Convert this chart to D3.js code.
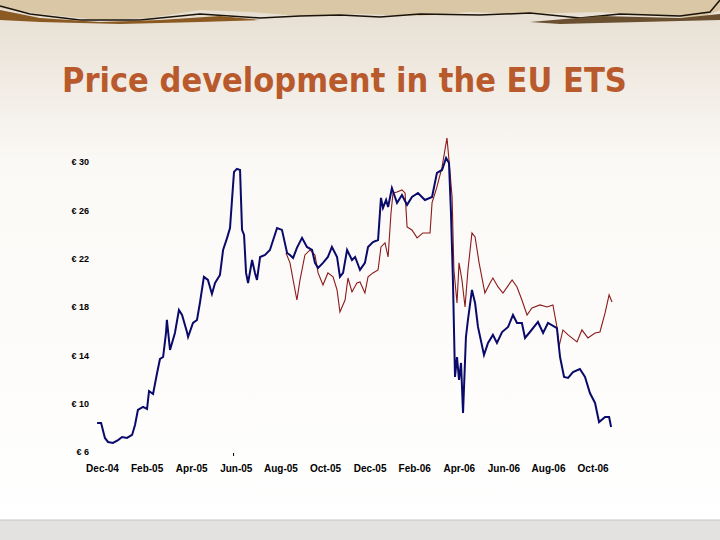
<!DOCTYPE html>
<html>
<head>
<meta charset="UTF-8">
<script src="https://d3js.org/d3.v7.min.js"></script>
<style>body{margin:0;overflow:hidden}</style>
</head>
<body>
<div id="chart"></div>
<script>
// months since Dec-04, price in EUR
var monthLabels = ["Dec-04","Feb-05","Apr-05","Jun-05","Aug-05","Oct-05","Dec-05","Feb-06","Apr-06","Jun-06","Aug-06","Oct-06"];
var priceTicks = [6, 10, 14, 18, 22, 26, 30];

var blueMonths = [-0.22,-0.04,0.13,0.27,0.49,0.72,0.90,1.12,1.35,1.48,1.61,1.84,2.02,2.11,2.29,2.47,2.60,2.74,2.87,2.91,3.05,3.27,3.45,3.59,3.81,3.86,4.08,4.26,4.39,4.57,4.75,4.93,5.07,5.29,5.43,5.61,5.74,5.83,5.92,6.05,6.19,6.28,6.37,6.46,6.55,6.73,6.86,6.95,7.09,7.31,7.53,7.85,8.07,8.30,8.43,8.57,8.74,8.97,9.19,9.42,9.55,9.69,9.91,10.13,10.31,10.54,10.67,10.81,10.99,11.21,11.35,11.52,11.57,11.79,11.93,12.15,12.38,12.51,12.60,12.74,12.83,13.00,13.23,13.45,13.68,13.90,14.17,14.48,14.80,15.02,15.25,15.43,15.56,15.65,15.74,15.83,15.92,16.01,16.10,16.19,16.32,16.41,16.59,16.73,16.86,17.13,17.31,17.53,17.71,17.94,18.21,18.43,18.61,18.83,18.97,19.19,19.55,19.78,20.00,20.40,20.54,20.72,20.90,21.12,21.43,21.66,21.88,22.11,22.29,22.56,22.74,22.83];
var bluePrices = [8.40,8.40,7.16,6.83,6.75,6.99,7.24,7.16,7.41,8.24,9.48,9.73,9.56,11.05,10.80,12.54,13.70,13.86,15.85,16.93,14.44,15.85,17.75,17.34,15.93,15.52,16.68,16.93,18.33,20.49,20.24,19.08,19.99,20.65,22.72,23.72,24.54,26.86,29.18,29.43,29.34,24.38,23.96,20.82,19.99,21.89,20.82,20.24,22.14,22.31,22.72,24.54,24.38,22.47,22.31,22.06,22.89,23.72,22.97,22.72,21.65,21.23,21.65,22.14,22.97,22.14,20.49,20.82,22.72,21.89,22.14,21.31,21.07,21.65,22.97,23.38,23.55,27.03,26.20,26.86,26.28,27.85,26.61,27.27,26.45,27.11,27.44,26.86,27.11,29.10,29.34,30.34,29.92,25.78,19.99,12.21,13.86,11.96,13.37,9.23,15.52,16.93,19.41,18.33,16.35,14.03,15.02,15.69,15.02,15.93,16.35,17.34,16.68,16.68,15.44,15.93,16.76,15.85,16.68,16.26,13.86,12.21,12.13,12.62,12.87,12.21,10.88,10.06,8.48,8.90,8.90,8.07];

var redMonths = [8.25,8.43,8.57,8.74,8.88,9.10,9.33,9.55,9.69,9.91,10.13,10.36,10.54,10.67,10.90,11.03,11.21,11.43,11.57,11.79,11.93,12.15,12.38,12.51,12.69,12.83,12.96,13.05,13.23,13.45,13.59,13.68,13.90,14.13,14.39,14.71,14.80,15.02,15.25,15.47,15.56,15.70,15.78,15.92,16.01,16.14,16.28,16.41,16.59,16.73,16.91,17.17,17.40,17.53,17.76,17.98,18.39,18.61,18.83,19.06,19.28,19.64,19.96,20.22,20.40,20.49,20.67,20.90,21.30,21.52,21.79,22.11,22.33,22.56,22.74,22.87];
var redPrices = [22.47,21.65,20.24,18.58,20.24,22.31,22.72,22.31,20.82,19.82,20.82,20.49,19.41,17.59,18.58,20.40,19.25,19.99,20.07,19.16,20.49,20.82,21.07,22.97,23.30,22.14,25.78,27.44,27.52,27.69,27.44,24.63,24.38,23.72,24.13,24.13,26.61,27.94,29.59,31.99,30.17,27.11,21.07,18.33,21.65,20.24,18.00,21.07,24.13,23.80,21.65,19.16,19.99,20.40,19.66,19.16,20.24,19.66,18.58,17.34,17.92,18.17,18.00,18.17,16.35,14.69,16.10,15.69,15.11,16.10,15.44,15.85,15.93,17.51,19.00,18.42];

var W = 720, H = 540;
var svg = d3.select("#chart").append("svg").attr("width", W).attr("height", H);

// slide background
var defs = svg.append("defs");
var g1 = defs.append("linearGradient").attr("id", "bg").attr("x1", 0).attr("y1", 0).attr("x2", 0).attr("y2", 1);
g1.append("stop").attr("offset", "0").attr("stop-color", "#e6ddd0");
g1.append("stop").attr("offset", "0.3").attr("stop-color", "#fbf9f6");
g1.append("stop").attr("offset", "1").attr("stop-color", "#ffffff");
svg.append("rect").attr("width", W).attr("height", H).attr("fill", "url(#bg)");

// banner at the top
svg.append("path")
    .attr("d", "M0,0 H720 V10 L700,18 L660,16 L600,12 L520,14 L470,12 L420,16 L360,14 L300,16 L250,12 L200,10 L150,18 L100,20 L40,14 L0,8 Z")
    .attr("fill", "#d9c7a6");
svg.append("path")
    .attr("d", "M0,6 L30,14 L80,20 L140,20 L200,14 L260,18 L300,16 L340,15 L380,17 L420,14 L480,15 L530,13 L580,18 L620,14 L680,16 L710,12 L720,0")
    .attr("fill", "none").attr("stroke", "#1a1208").attr("stroke-width", 1.5);
svg.append("path")
    .attr("d", "M0,10 L40,18 L100,22 L160,20 L220,16 L260,20 L200,22 L120,24 L40,22 L0,20 Z")
    .attr("fill", "#8a5a22");
svg.append("path")
    .attr("d", "M530,22 L600,16 L680,18 L720,14 L720,20 L640,22 L560,24 Z")
    .attr("fill", "#6a5030");

// bottom band
svg.append("rect").attr("y", 520).attr("width", W).attr("height", 20).attr("fill", "#e4e2e0");
svg.append("line").attr("x1", 0).attr("x2", W).attr("y1", 520).attr("y2", 520).attr("stroke", "#c8c4c0");

// title
svg.append("text")
    .attr("x", 62).attr("y", 92)
    .style("font-family", "'DejaVu Sans Condensed', 'Liberation Sans Narrow', sans-serif")
    .style("font-weight", "bold").style("font-size", "34px")
    .style("fill", "#b95a2c")
    .text("Price development in the EU ETS");

// scales
var x = d3.scaleLinear().domain([0, 22]).range([102, 102 + 22 * 22.3]);
var y = d3.scaleLinear().domain([6, 30]).range([452, 162]);

var yAxis = svg.append("g").attr("transform", "translate(89,0)")
    .call(d3.axisLeft(y).tickValues(priceTicks).tickSize(0).tickFormat(function (d) { return "€ " + d; }));
yAxis.select(".domain").remove();
yAxis.selectAll("text").style("font-family", "'Liberation Sans', Arial, sans-serif")
    .style("font-weight", "bold").style("font-size", "9px").attr("x", 0).attr("dy", "0.32em");

var xAxis = svg.append("g").attr("transform", "translate(0,465)")
    .call(d3.axisBottom(x).tickValues(monthLabels.map(function (d, i) { return i * 2; }))
        .tickSize(0).tickFormat(function (d) { return monthLabels[d / 2]; }));
xAxis.select(".domain").remove();
xAxis.selectAll("text").style("font-family", "'Liberation Sans', Arial, sans-serif")
    .style("font-weight", "bold").style("font-size", "10px").attr("dy", "0.71em").attr("y", 0);

// small tick mark
svg.append("line").attr("x1", x(5.9)).attr("x2", x(5.9)).attr("y1", 453).attr("y2", 456)
    .attr("stroke", "#000").attr("stroke-width", 1);

var line = d3.line().x(function (d) { return x(d[0]); }).y(function (d) { return y(d[1]); });

svg.append("path")
    .datum(redMonths.map(function (m, i) { return [m, redPrices[i]]; }))
    .attr("d", line).attr("fill", "none").attr("stroke", "#8b1a1a").attr("stroke-width", 1.1);

svg.append("path")
    .datum(blueMonths.map(function (m, i) { return [m, bluePrices[i]]; }))
    .attr("d", line).attr("fill", "none").attr("stroke", "#0a0a6a").attr("stroke-width", 2);
</script>
</body>
</html>
